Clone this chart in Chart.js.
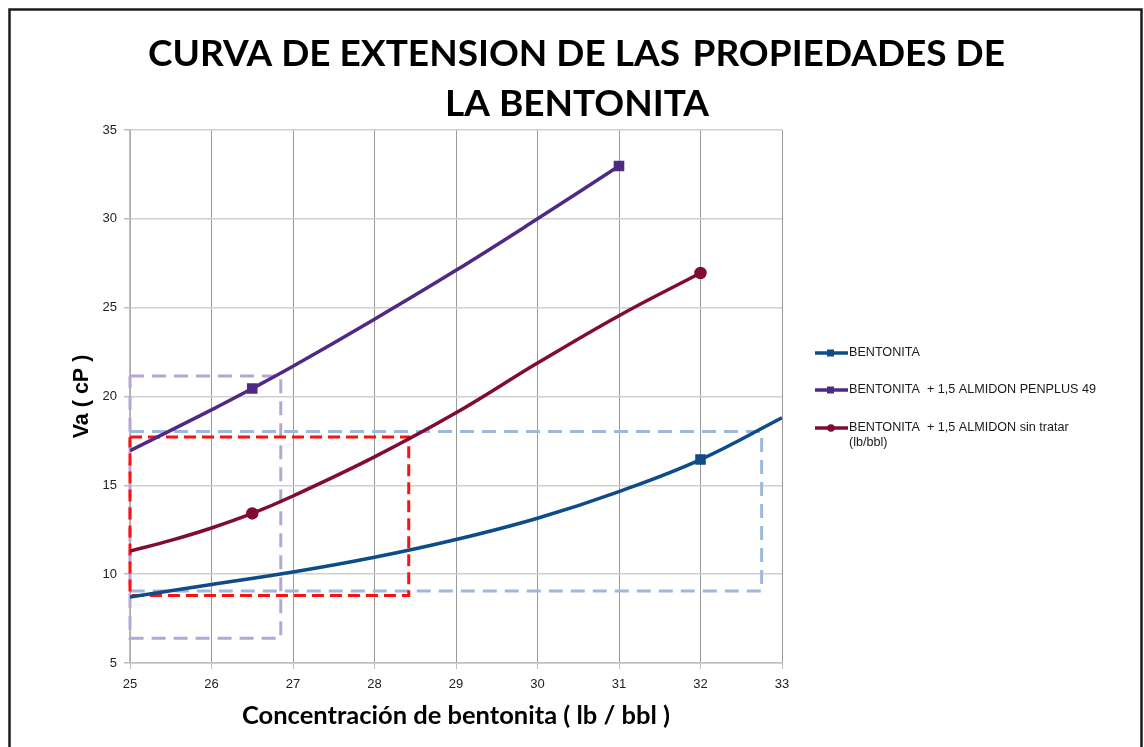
<!DOCTYPE html>
<html>
<head>
<meta charset="utf-8">
<script src="https://cdn.jsdelivr.net/npm/chart.js@4.4.0/dist/chart.umd.min.js"></script>
<style>
  body { margin: 0; background: #fff; }
  #c { display: block; }
</style>
</head>
<body>
<canvas id="c" width="1144" height="747"></canvas>
<script>
// values
const xTicks = [25, 26, 27, 28, 29, 30, 31, 32, 33];
const yTicks = [5, 10, 15, 20, 25, 30, 35];

const bentX = [25, 26, 27, 28, 29, 30, 31, 32, 33];
const bentY = [8.72, 9.42, 10.12, 10.95, 11.95, 13.15, 14.65, 16.45, 18.8];
const bentMeasured = [32];

const penX = [25, 26, 26.5, 27, 28, 29, 30, 31];
const penY = [16.95, 19.25, 20.45, 21.7, 24.35, 27.1, 30.0, 32.97];
const penMeasured = [26.5, 31];

const sinX = [25, 25.5, 26, 26.5, 27, 28, 29, 30, 31, 32];
const sinY = [11.3, 11.9, 12.6, 13.42, 14.4, 16.6, 19.08, 21.88, 24.55, 26.95];
const sinMeasured = [26.5, 32];

// dashed boxes (corners)
const boxPenX = [25, 26.85, 26.85, 25, 25];
const boxPenY = [21.15, 21.15, 6.4, 6.4, 21.15];
const boxSinX = [25, 28.42, 28.42, 25, 25];
const boxSinY = [17.72, 17.72, 8.8, 8.8, 17.72];
const boxBentX = [25, 32.75, 32.75, 25];
const boxBentY = [18.03, 18.03, 9.05, 9.05];

const titleLines = ['CURVA DE EXTENSION DE LAS  PROPIEDADES DE', 'LA BENTONITA'];
const labels = [
  'BENTONITA',
  'BENTONITA  + 1,5 ALMIDON PENPLUS 49',
  'BENTONITA  + 1,5 ALMIDON sin tratar (lb/bbl)'
];

function pts(xs, ys) {
  return xs.map((x, i) => ({x: x, y: ys[i]}));
}

function curve(label, xs, ys, measured, color, style) {
  return {
    label: label,
    data: pts(xs, ys),
    showLine: true,
    borderColor: color,
    backgroundColor: color,
    borderWidth: 3.5,
    tension: 0.4,
    pointStyle: style,
    pointRadius: ctx => measured.includes(ctx.raw.x) ? (style === 'rect' ? 5 : 4.5) : 0,
    pointHoverRadius: 0
  };
}

function box(xs, ys, color, dash) {
  return {
    label: '',
    data: pts(xs, ys),
    showLine: true,
    borderColor: color,
    borderWidth: 3,
    borderDash: dash,
    pointRadius: 0,
    tension: 0,
    clip: false,
    isBox: true
  };
}

const bgFrame = {
  id: 'bgFrame',
  beforeDraw(chart) {
    const ctx = chart.ctx;
    ctx.save();
    ctx.fillStyle = '#fff';
    ctx.fillRect(0, 0, chart.width, chart.height);
    ctx.restore();
  },
  afterDraw(chart) {
    const ctx = chart.ctx;
    ctx.save();
    ctx.strokeStyle = '#1b1b1b';
    ctx.lineWidth = 2.5;
    ctx.strokeRect(9.5, 9.5, 1132, 800);
    ctx.restore();
  }
};

// big two-line title, first line spread to the reference width
const bigTitle = {
  id: 'bigTitle',
  afterDraw(chart) {
    const ctx = chart.ctx;
    ctx.save();
    ctx.fillStyle = '#000';
    ctx.font = 'bold 37px Lato, "Open Sans", sans-serif';
    ctx.textBaseline = 'alphabetic';
    const words = titleLines[0].split(/\s+/);
    const widths = words.map(w => ctx.measureText(w).width);
    const left = 148, right = 1005;
    const gaps = words.length - 1;
    const gap = (right - left - widths.reduce((a, b) => a + b, 0)) / (gaps + 0.4);
    let x = left;
    words.forEach((w, i) => {
      ctx.textAlign = 'left';
      ctx.fillText(w, x, 66);
      x += widths[i] + gap * (w === 'LAS' ? 1.4 : 1);
    });
    ctx.textAlign = 'center';
    ctx.fillText(titleLines[1], 577, 116);
    ctx.restore();
  }
};

// legend with line + marker samples, like the spreadsheet one
const sideLegend = {
  id: 'sideLegend',
  afterDraw(chart) {
    const ctx = chart.ctx;
    const rows = [353, 390, 428];
    ctx.save();
    ctx.font = '12.6px "Liberation Sans", Arial, sans-serif';
    ctx.textBaseline = 'middle';
    chart.data.datasets.forEach((ds, i) => {
      if (ds.isBox) return;
      const y = rows[i];
      ctx.strokeStyle = ds.borderColor;
      ctx.fillStyle = ds.borderColor;
      ctx.lineWidth = 3.5;
      ctx.beginPath();
      ctx.moveTo(815, y);
      ctx.lineTo(848, y);
      ctx.stroke();
      if (ds.pointStyle === 'rect') {
        ctx.fillRect(827, y - 3.5, 7, 7);
      } else {
        ctx.beginPath();
        ctx.arc(831, y, 3.8, 0, Math.PI * 2);
        ctx.fill();
      }
      const words = ds.label.split(' ');
      let line = '';
      let ly = y;
      ctx.fillStyle = '#1a1a1a';
      ctx.textAlign = 'left';
      words.forEach(w => {
        const test = line === '' ? w : line + ' ' + w;
        if (ctx.measureText(test).width > 256 && line !== '') {
          ctx.fillText(line, 849, ly);
          line = w;
          ly += 15;
        } else {
          line = test;
        }
      });
      ctx.fillText(line, 849, ly);
    });
    ctx.restore();
  }
};

new Chart(document.getElementById('c'), {
  type: 'scatter',
  data: {
    datasets: [
      curve(labels[0], bentX, bentY, bentMeasured, '#0E4C89', 'rect'),
      curve(labels[1], penX, penY, penMeasured, '#4F2A84', 'rect'),
      curve(labels[2], sinX, sinY, sinMeasured, '#800C33', 'circle'),
      box(boxSinX, boxSinY, '#FF1010', [12, 6]),
      box(boxBentX, boxBentY, '#9DB8DA', [14, 8]),
      box(boxPenX, boxPenY, '#B5A6D3', [14, 8])
    ]
  },
  options: {
    responsive: false,
    animation: false,
    events: [],
    layout: { padding: { left: 0, right: 362, top: 130, bottom: 0 } },
    plugins: {
      legend: { display: false },
      tooltip: { enabled: false },
      title: { display: false }
    },
    scales: {
      x: {
        type: 'linear',
        min: xTicks[0],
        max: xTicks[xTicks.length - 1],
        afterBuildTicks: s => { s.ticks = xTicks.map(v => ({value: v})); },
        afterFit: s => { s.height = 84; },
        grid: { color: '#9a9a9a', lineWidth: 1, tickLength: 6, tickColor: '#bdbdbd' },
        border: { color: '#bdbdbd', width: 1.5 },
        ticks: { color: '#222', padding: 8, font: { family: '"Liberation Sans", Arial, sans-serif', size: 13 } },
        title: {
          display: true,
          text: 'Concentración de bentonita ( lb / bbl )',
          color: '#000',
          font: { family: 'Lato, "Open Sans", sans-serif', size: 25.5, weight: 'bold' },
          padding: { top: 0, bottom: 16 }
        }
      },
      y: {
        type: 'linear',
        min: yTicks[0],
        max: yTicks[yTicks.length - 1],
        afterBuildTicks: s => { s.ticks = yTicks.map(v => ({value: v})); },
        afterFit: s => { s.width = 130; },
        grid: { color: '#d0d0d0', lineWidth: 1.5, tickLength: 6, tickColor: '#bdbdbd' },
        border: { color: '#bdbdbd', width: 1.5 },
        ticks: { color: '#222', padding: 7, font: { family: '"Liberation Sans", Arial, sans-serif', size: 13 } },
        title: {
          display: true,
          text: 'Va ( cP )',
          color: '#000',
          font: { family: '"Liberation Sans", Arial, sans-serif', size: 21.5, weight: 'bold' },
          padding: { top: 69, bottom: 0 }
        }
      }
    }
  },
  plugins: [bgFrame, bigTitle, sideLegend]
});
</script>
</body>
</html>
